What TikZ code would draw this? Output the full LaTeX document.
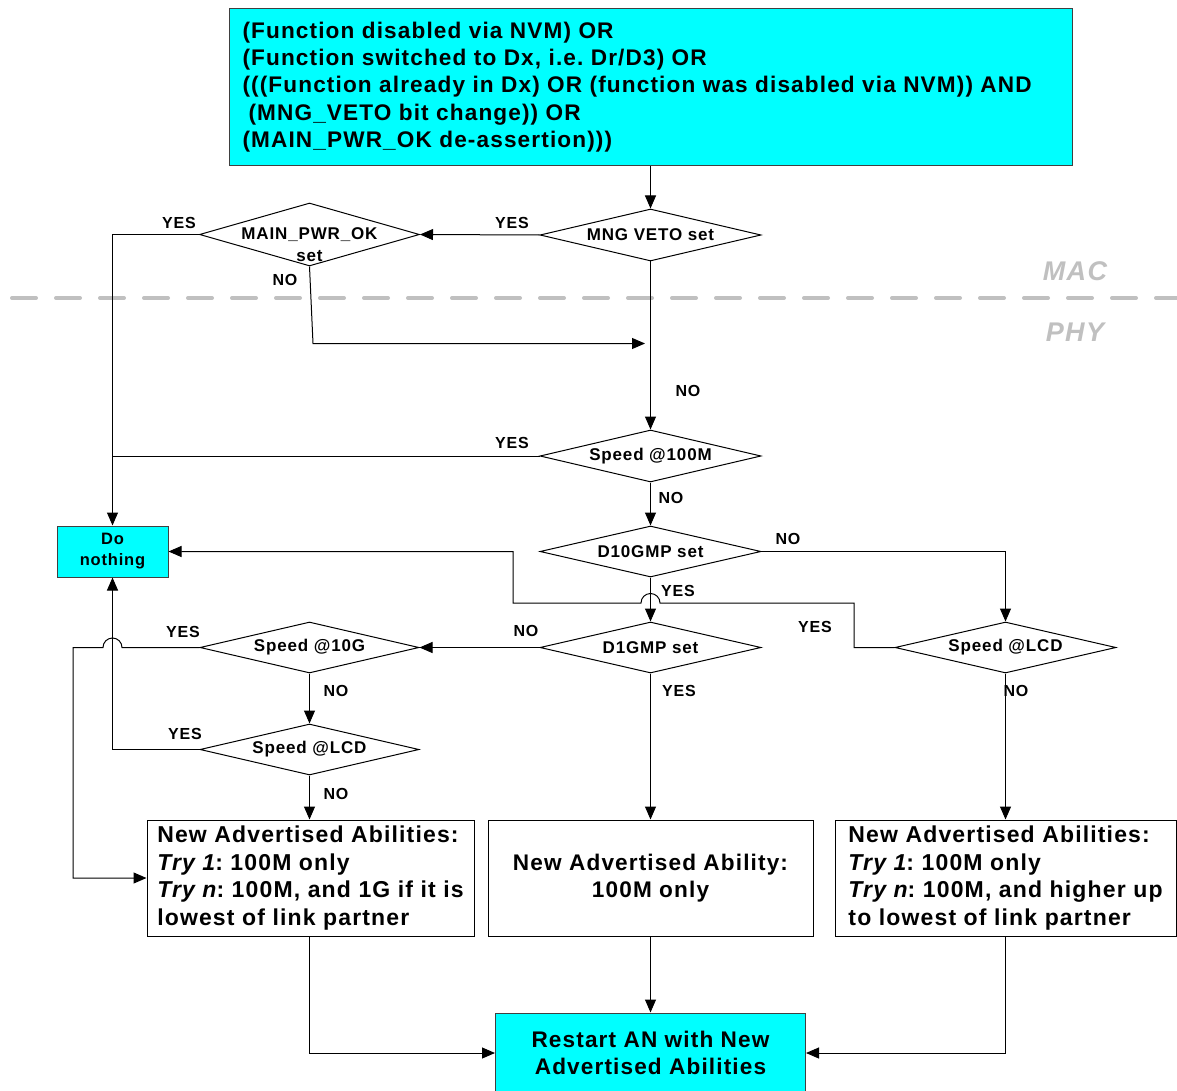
\documentclass[tikz,border=0pt]{standalone}
\usepackage{fontspec}
\setmainfont{Liberation Sans}[LetterSpace=5]
\usetikzlibrary{shapes.geometric,arrows.meta}
\definecolor{boxcyan}{HTML}{00FFFF}
\definecolor{sepgray}{HTML}{C0C0C0}
\definecolor{edgegray}{HTML}{404040}
\frenchspacing
\begin{document}
\begin{tikzpicture}[x=1pt,y=-1pt,
 line width=1pt,
 arr/.style={-{Triangle[length=13pt,width=11pt]}},
 dia/.style={draw, shape=diamond, inner sep=0pt, aspect=4.25, font=\fontsize{17}{22.5}\selectfont\bfseries},
 diatxt/.style={inner sep=0pt, font=\fontsize{17}{22.5}\selectfont\bfseries},
 cbox/.style={draw=edgegray, fill=boxcyan, inner sep=0pt},
 wbox/.style={draw, fill=white, inner sep=0pt},
 lbl/.style={inner sep=0pt, font=\fontsize{16}{19}\selectfont\bfseries},
 bigtxt/.style={inner sep=0pt, font=\fontsize{22.6}{27.4}\selectfont\bfseries},
 boxtxt/.style={inner sep=0pt, font=\fontsize{23}{27.4}\selectfont\bfseries},
 layer/.style={inner sep=0pt, text=sepgray, font=\fontsize{27}{30}\selectfont\bfseries\itshape},
 sepline/.style={draw=sepgray, line width=4pt, line cap=round, dash pattern=on 24pt off 20pt},
]
\useasboundingbox (0,0) rectangle (1177,1091);
\fill[white] (0,0) rectangle (1177,1091);

% MAC / PHY separator
\draw[sepline] (12,298) -- (1177,298);
\node[layer] (mac) at (1075,271) {MAC};
\node[layer] (phy) at (1075,332) {PHY};

% top condition box
\node[cbox, minimum width=843, minimum height=157] (top) at (650.5,87.5) {};
\node[bigtxt, align=left, anchor=west] (toptxt) at (242,87) {(Function disabled via NVM) OR\\
(Function switched to Dx, i.e. Dr/D3) OR\\
(((Function already in Dx) OR (function was disabled via NVM)) AND\\
\hspace*{6pt}(MNG\_VETO bit change)) OR\\
(MAIN\_PWR\_OK de-assertion)))};

% decisions
\node[dia, minimum width=221, minimum height=52] (mng) at (650.5,235) {MNG VETO set};
\node[dia, minimum width=220, minimum height=63] (mpo) at (309.5,234.5) {};
\node[diatxt, align=center] (mpotxt) at (309.5,244.5) {MAIN\_PWR\_OK\\set};
\node[dia, minimum width=221, minimum height=52] (s100) at (650.5,456) {Speed @100M};
\node[dia, minimum width=221, minimum height=51] (d10) at (650.5,551.5) {D10GMP set};
\node[dia, minimum width=221, minimum height=51] (d1) at (650.5,647.5) {D1GMP set};
\node[dia, minimum width=219, minimum height=51] (s10g) at (309.5,647.5) {Speed @10G};
\node[dia, minimum width=219, minimum height=51] (lcdL) at (309.5,749.5) {Speed @LCD};
\node[dia, minimum width=221, minimum height=51] (lcdR) at (1005.5,647.5) {Speed @LCD};

% boxes
\node[cbox, minimum width=111, minimum height=51, align=center, font=\fontsize{16.5}{21}\selectfont\bfseries] (dn) at (112.5,551.5) {Do\\nothing};
\node[wbox, minimum width=327, minimum height=116, align=left, boxtxt] (la) at (310.5,878) {New Advertised Abilities:\\
{\itshape Try 1}: 100M only\\
{\itshape Try n}: 100M, and 1G if it is\\
lowest of link partner};
\node[wbox, minimum width=325, minimum height=116, align=center, bigtxt] (ma) at (650.5,878) {New Advertised Ability:\\100M only};
\node[wbox, minimum width=341, minimum height=116, align=left, boxtxt] (ra) at (1005.5,878) {New Advertised Abilities:\\
{\itshape Try 1}: 100M only\\
{\itshape Try n}: 100M, and higher up\\
to lowest of link partner};
\node[cbox, minimum width=310, minimum height=80, align=center, bigtxt] (rs) at (650.5,1053) {Restart AN with New\\Advertised Abilities};

% connectors
\draw[arr] (top.south) -- (mng.north);
\draw[arr] (mng.west) -- (mpo.east);
\draw[arr] (mpo.west) -| (dn.north);
\coordinate (mj) at (645,343.5);
\draw[arr] (mpo.south) -- (313,343.5) -- (mj);
\draw[arr] (mng.south) -- (s100.north);
\draw (s100.west) -- (s100.west -| dn.north);
\draw[arr] (s100.south) -- (d10.north);
\draw[arr] (d10.east) -| (lcdR.north);
\draw[arr] (d10.south) -- (d1.north);
\draw[arr] (lcdR.west) -- (854,647.5) -- (854,603) -- (660,603)
   arc[start angle=0, end angle=-180, radius=9.5] -- (513,603) -- (513,551.5) -- (dn.east);
\draw[arr] (d1.west) -- (s10g.east);
\draw[arr] (d1.south) -- (ma.north);
\draw[arr] (s10g.west) -- (122,647.5)
   arc[start angle=0, end angle=-180, radius=9.5] -- (73,647.5) |- (la.west);
\draw[arr] (s10g.south) -- (lcdL.north);
\draw[arr] (lcdL.west) -| (dn.south);
\draw[arr] (lcdL.south) -- (lcdL.south |- la.north);
\draw[arr] (lcdR.south) -- (ra.north);
\draw[arr] (lcdL.south |- la.south) |- (rs.west);
\draw[arr] (ma.south) -- (rs.north);
\draw[arr] (ra.south) |- (rs.east);

% branch labels
\node[lbl] (l1) at (512,223) {YES};
\node[lbl] (l2) at (179,223) {YES};
\node[lbl] (l3) at (285,280) {NO};
\node[lbl] (l4) at (688,391) {NO};
\node[lbl] (l5) at (512,443) {YES};
\node[lbl] (l6) at (671,498) {NO};
\node[lbl] (l7) at (788,539) {NO};
\node[lbl] (l8) at (678,591) {YES};
\node[lbl] (l9) at (815,627) {YES};
\node[lbl] (l10) at (526,631) {NO};
\node[lbl] (l11) at (679,691) {YES};
\node[lbl] (l12) at (183,632) {YES};
\node[lbl] (l13) at (336,691) {NO};
\node[lbl] (l14) at (185,734) {YES};
\node[lbl] (l15) at (336,794) {NO};
\node[lbl] (l16) at (1016,691) {NO};
\end{tikzpicture}
\end{document}
